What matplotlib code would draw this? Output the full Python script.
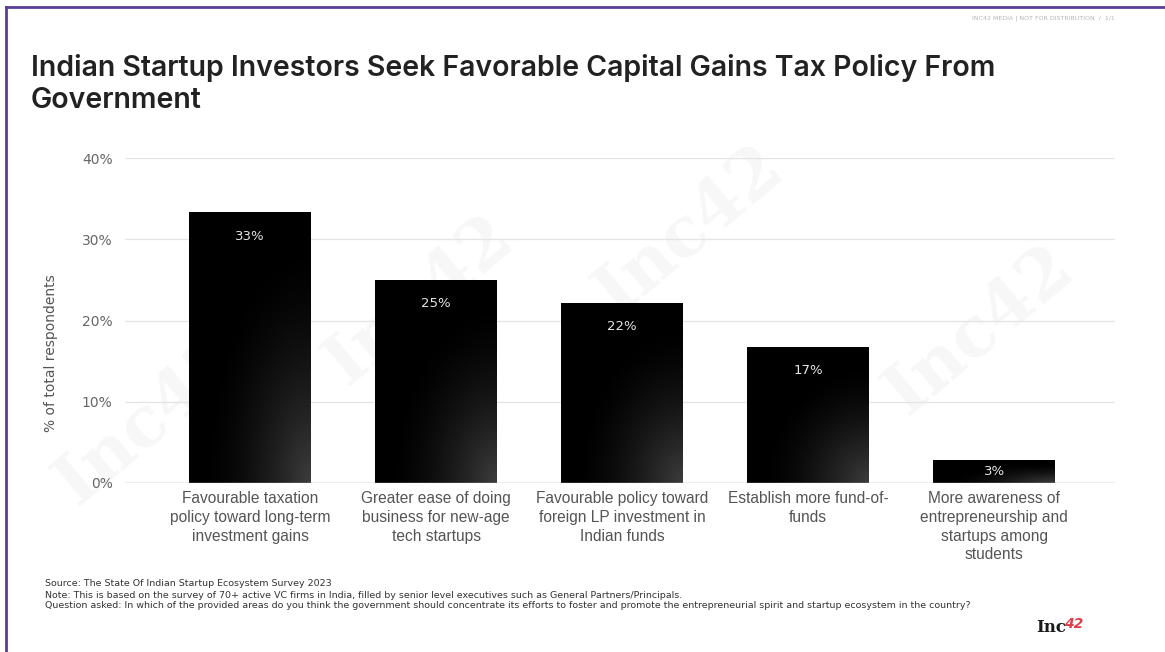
import numpy as np
import matplotlib
matplotlib.use('Agg')
import matplotlib.pyplot as plt
from matplotlib.lines import Line2D

categories = [
    'Favourable taxation\npolicy toward long-term\ninvestment gains',
    'Greater ease of doing\nbusiness for new-age\ntech startups',
    'Favourable policy toward\nforeign LP investment in\nIndian funds',
    'Establish more fund-of-\nfunds',
    'More awareness of\nentrepreneurship and\nstartups among\nstudents',
]
shares = [33.3, 25.0, 22.2, 16.7, 2.8]
yticks = [0, 10, 20, 30, 40]

title = ('Indian Startup Investors Seek Favorable Capital Gains Tax Policy From\n'
         'Government')
notes = [
    'Source: The State Of Indian Startup Ecosystem Survey 2023',
    'Note: This is based on the survey of 70+ active VC firms in India, filled by '
    'senior level executives such as General Partners/Principals.',
    'Question asked: In which of the provided areas do you think the government '
    'should concentrate its efforts to foster and promote the entrepreneurial '
    'spirit and startup ecosystem in the country?',
]

W, H = 1165, 652
fig = plt.figure(figsize=(W / 100, H / 100), dpi=100)
fig.patch.set_facecolor('white')


def px(x, y):
    return x / W, 1 - y / H


# faint background watermarks (kept underneath the axes)
for wx, wy in [(150, 420), (420, 300), (690, 230), (980, 330)]:
    fig.text(*px(wx, wy), 'Inc42', fontsize=50, fontweight='bold',
             family=['DejaVu Serif'], color='#f7f7f7', rotation=40,
             ha='center', va='center', zorder=-5)

# purple frame (top and left edges)
purple = '#5b3f96'
fig.add_artist(Line2D([px(6, 0)[0], 1], [px(0, 7)[1]] * 2, color=purple, lw=2))
fig.add_artist(Line2D([px(6, 0)[0]] * 2, [px(0, 7)[1], 0], color=purple, lw=2))

fig.text(*px(1115, 18), 'INC42 MEDIA | NOT FOR DISTRIBUTION  /  1/1',
         fontsize=4.5, color='#b5b5b5', ha='right', va='center')

fig.text(*px(31, 54), title, fontsize=20.5, fontweight='semibold',
         family=['Inter', 'DejaVu Sans'], color='#222222', ha='left', va='top',
         linespacing=1.25)

l, r, b, t = 125, 1115, 483, 158
ax = fig.add_axes([l / W, 1 - b / H, (r - l) / W, (b - t) / H])
ax.set_zorder(2)
x = np.arange(len(shares))
bars = ax.bar(x, shares, width=0.655, color='black', zorder=2)

# dark fill that lightens toward each bar's lower right corner
grad = np.linspace(0, 1, 80)
gx, gy = np.meshgrid(grad, grad)
field = np.clip(1 - np.hypot(1 - gx, 1 - gy) / 0.9, 0, 1) ** 1.6
for bar in bars:
    x0, y0 = bar.get_x(), bar.get_y()
    w, h = bar.get_width(), bar.get_height()
    im = ax.imshow(field, cmap='gray', vmin=0, vmax=4.2, aspect='auto',
                   extent=[x0, x0 + w, y0, y0 + h], origin='upper', zorder=3)
    im.set_clip_path(bar)

for xi, v in zip(x, shares):
    ax.text(xi, max(v - 2.9, v / 2), f'{v:.0f}%', ha='center', va='center',
            color='#e6e6e6', fontsize=9.5, zorder=4)

ax.set_xlim(-0.672, 4.65)
ax.set_ylim(0, 40)
ax.set_yticks(yticks)
ax.set_yticklabels([f'{v}%' for v in yticks])
ax.yaxis.grid(True, color='#e4e4e4', lw=0.9, zorder=0)
ax.axhline(0, color='#bdbdbd', lw=1, zorder=5)
for s in ax.spines.values():
    s.set_visible(False)
ax.tick_params(axis='y', length=0, pad=9, labelsize=10, labelcolor='#666666')
ax.tick_params(axis='x', length=0, pad=6)
ax.set_xticks(x)
ax.set_xticklabels(categories, fontsize=11.2, color='#555555', linespacing=1.3,
                   family=['Liberation Sans', 'DejaVu Sans'])
ax.set_facecolor('none')

fig.text(*px(51, 353), '% of total respondents', rotation=90, fontsize=10,
         color='#555555', ha='center', va='center')

for i, line in enumerate(notes):
    fig.text(*px(45, 584 + 11 * i), line, fontsize=6.8, color='#333333',
             family=['Liberation Sans Narrow', 'DejaVu Sans'],
             ha='left', va='center')

# Inc42 mark
fig.text(*px(1036, 628), 'Inc', fontsize=12, fontweight='bold',
         family=['DejaVu Serif'], color='#1a1a1a', ha='left', va='center')
fig.text(*px(1064, 624), '42', fontsize=10, fontweight='bold', style='italic',
         color='#e23b4a', ha='left', va='center')

fig.savefig('out.png', dpi=100, facecolor='white')
